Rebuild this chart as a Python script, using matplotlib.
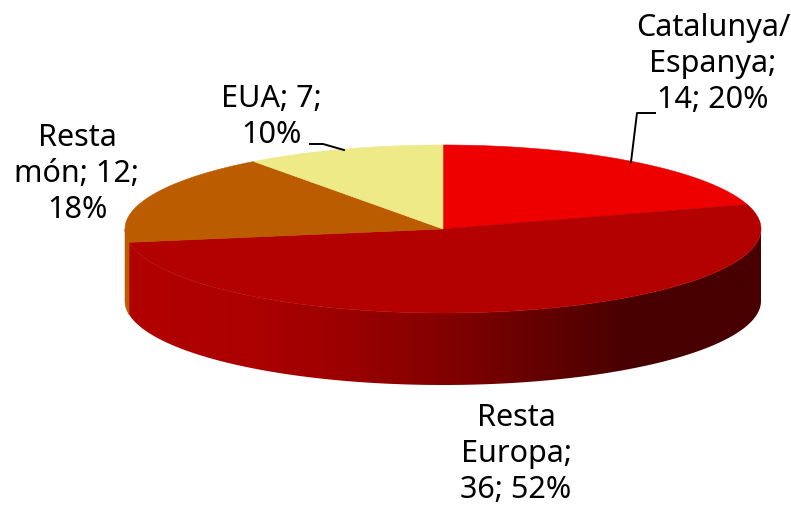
"""3D style pie: top ellipse plus shaded side wall."""
import numpy as np
import matplotlib
matplotlib.use("Agg")
import matplotlib.pyplot as plt
from matplotlib.patches import Polygon

labels = ["Catalunya/\nEspanya;\n14; 20%", "Resta\nEuropa;\n36; 52%", "Resta\nmón; 12;\n18%", "EUA; 7;\n10%"]
values = [14, 36, 12, 7]
colors = ["#ee0000", "#b30000", "#bb5c00", "#eeea88"]
label_pos = [(713, 64), (516, 454), (77, 174), (271, 117)]

# side wall shading of the big slice, left to right
shade_x = [130, 250, 320, 440, 630, 762]
shade_r = [178, 172, 160, 132, 72, 72]

CX, CY, RX, RY, DEPTH = 443, 229, 318, 84, 72

fig = plt.figure(figsize=(7.91, 5.08), dpi=100)
ax = fig.add_axes([0, 0, 1, 1])
ax.axis("off")


def rim(t):
    # t measured clockwise from 12 o'clock
    return CX + RX * np.sin(t), CY - RY * np.cos(t)


def wall(lo, hi):
    ts = np.linspace(lo, hi, 300)
    x, y = rim(ts)
    return np.column_stack([np.r_[x, x[::-1]], np.r_[y, y[::-1] + DEPTH]])


edges = np.radians(np.concatenate([[0], np.cumsum(values)]) / sum(values) * 360)

# side wall, only the front half is visible
poly = Polygon(wall(np.pi / 2, edges[2]), facecolor="none", edgecolor="none")
ax.add_patch(poly)
xs = np.arange(CX - RX, CX + RX + 1)
grad = np.zeros((1, len(xs), 3))
grad[0, :, 0] = np.interp(xs, shade_x, shade_r) / 255
im = ax.imshow(grad, extent=(xs[0], xs[-1], CY + RY + DEPTH, CY - RY), aspect="auto",
               interpolation="bilinear", zorder=1)
im.set_clip_path(poly)
ax.set_xlim(0, 791)
ax.set_ylim(508, 0)
ax.add_patch(Polygon(wall(edges[2], 3 * np.pi / 2), facecolor=colors[2], edgecolor=colors[2],
                     lw=0.4, zorder=1))

# top face
for i, col in enumerate(colors):
    ts = np.linspace(edges[i], edges[i + 1], 200)
    x, y = rim(ts)
    pts = np.column_stack([np.r_[CX, x], np.r_[CY, y]])
    ax.add_patch(Polygon(pts, facecolor=col, edgecolor=col, lw=0.4, zorder=3))

for text, (x, y) in zip(labels, label_pos):
    ax.text(x, y, text, ha="center", va="center", fontsize=22, color="black",
            family=["Noto Sans", "DejaVu Sans"], linespacing=1.25, zorder=5)

# leader lines
ax.plot([655, 637, 631], [113, 113, 162], color="black", lw=1.4, zorder=4)
ax.plot([310, 323, 344], [144, 144, 150], color="black", lw=1.4, zorder=4)

fig.savefig("out.png", dpi=100)
